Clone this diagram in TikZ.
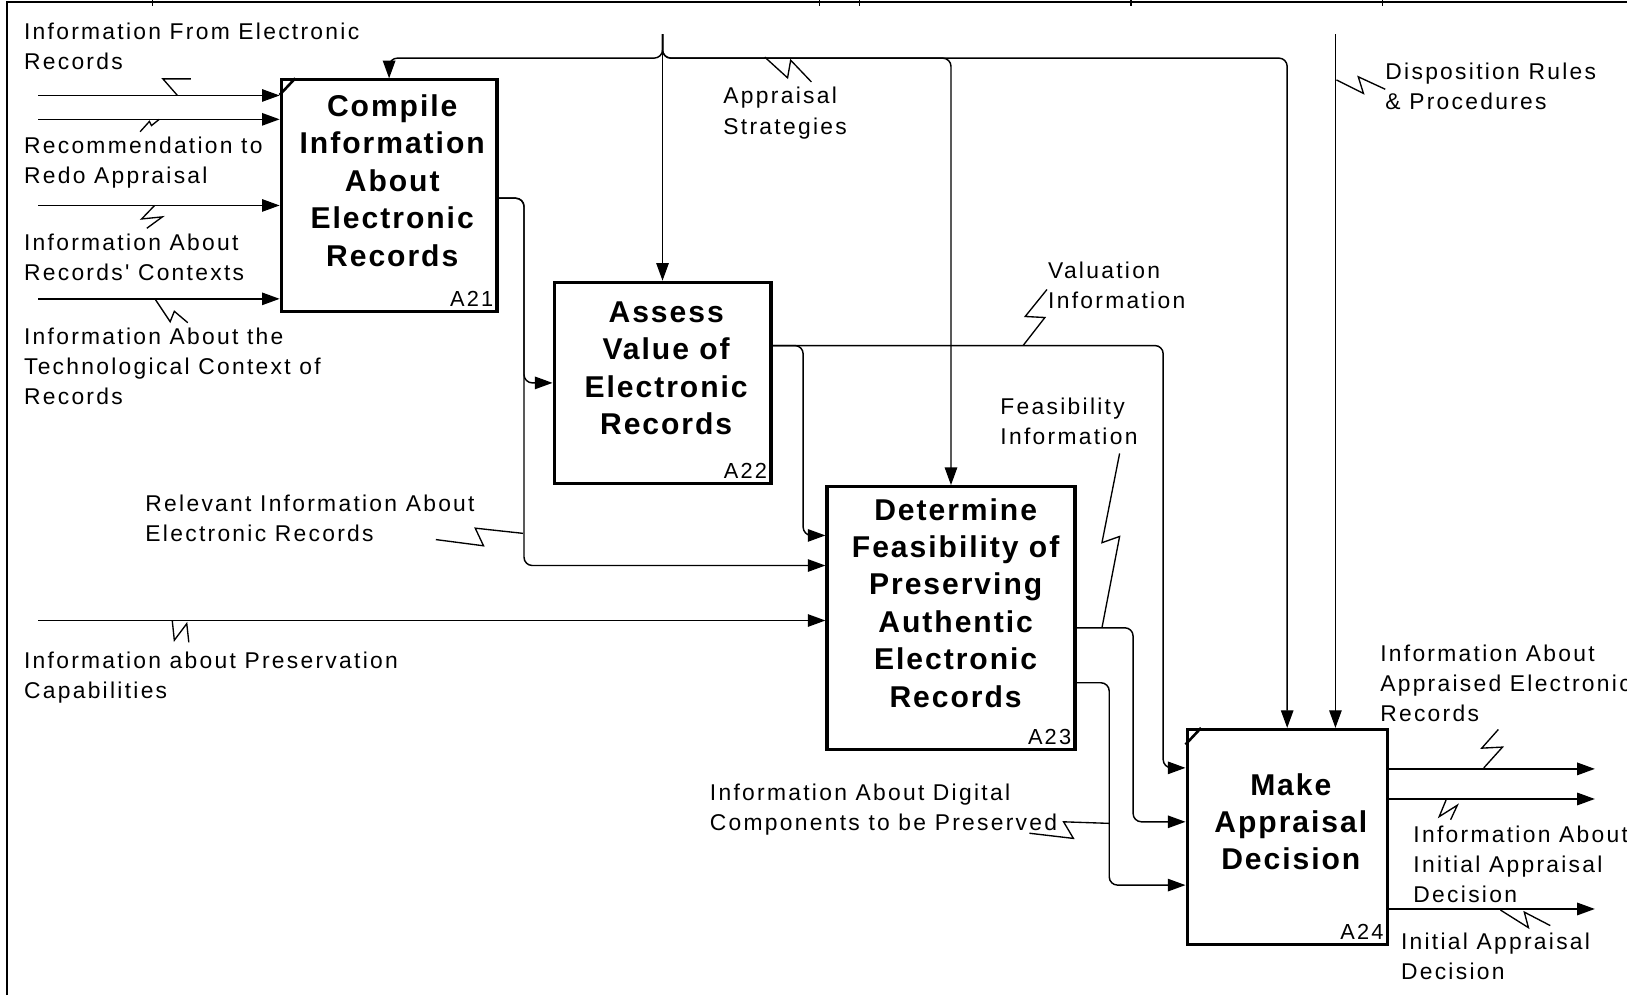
\documentclass[tikz,border=0pt]{standalone}
\usepackage{fontspec}
\setmainfont{Liberation Sans}
\newfontfamily\labfont[LetterSpace=10]{Liberation Sans}
\newfontfamily\boxfont[LetterSpace=6.5]{Liberation Sans}
\usetikzlibrary{arrows.meta,calc}
\begin{document}
\begin{tikzpicture}[x=1pt,y=-1pt,
  act/.style={draw, line width=3pt, rectangle, inner sep=0},
  boxtxt/.style={font=\boxfont\bfseries\fontsize{29}{36}\selectfont, align=center, inner sep=0},
  idtxt/.style={font=\labfont\fontsize{21}{24}\selectfont, inner sep=0, anchor=base east},
  lab/.style={font=\labfont\fontsize{22}{29}\selectfont, align=left, inner sep=0, anchor=north west},
  arr/.style={line width=1.4pt, -{Triangle[length=17pt,width=12pt]}, rounded corners=8pt},
  wire/.style={line width=1.4pt, rounded corners=8pt},
  squig/.style={line width=1.3pt},
  corner/.style={line width=2.5pt}]
\useasboundingbox (0,0) rectangle (1568,959);
% frame
\draw[line width=2pt] (7,959) -- (7,1.5) -- (1568,1.5);
\foreach \tx in {147,790,828,1090,1332} \draw[line width=1.2pt] (\tx,0) -- (\tx,6);

% activity boxes
\node[act, minimum width=208pt, minimum height=223pt] (a21) at (375,188.5) {};
\node[act, minimum width=209pt, minimum height=194pt] (a22) at (638.5,369) {};
\node[act, minimum width=239pt, minimum height=253pt] (a23) at (916.5,595.5) {};
\node[act, minimum width=193pt, minimum height=207pt] (a24) at (1240.5,806.5) {};
\draw[corner] ($(a21.north west)+(0,16)$) -- ($(a21.north west)+(15,0)$);
\draw[corner] ($(a24.north west)+(0,16)$) -- ($(a24.north west)+(15,0)$);

\node[boxtxt] (t21) at (378,174) {Compile\\Information\\About\\Electronic\\Records};
\node[boxtxt] (t22) at (642,355) {Assess\\Value of\\Electronic\\Records};
\node[boxtxt] (t23) at (921,581) {Determine\\Feasibility of\\Preserving\\Authentic\\Electronic\\Records};
\node[boxtxt] (t24) at (1244,792) {Make\\Appraisal\\Decision};

\node[idtxt] (n21) at ($(a21.south east)+(-5,-6)$) {A21};
\node[idtxt] (n22) at ($(a22.south east)+(-5,-6)$) {A22};
\node[idtxt] (n23) at ($(a23.south east)+(-5,-6)$) {A23};
\node[idtxt] (n24) at ($(a24.south east)+(-5,-6)$) {A24};

% external inputs
\coordinate (i1) at (37,92);
\coordinate (i2) at (37,115);
\coordinate (i3) at (37,198);
\coordinate (i4) at (37,288);
\coordinate (i5) at (37,598);
\draw[arr] (i1) -- (i1 -| a21.west);
\draw[arr] (i2) -- (i2 -| a21.west);
\draw[arr] (i3) -- (i3 -| a21.west);
\draw[arr] (i4) -- (i4 -| a21.west);
\draw[arr] (i5) -- (i5 -| a23.west);

% controls from top
\coordinate (cs) at (638.5,33);
\coordinate (bus) at (638.5,56);
\draw[arr] (cs) -- (a22.north);
\draw[arr] (cs) -- (bus) -| (a21.north);
\draw[arr] (cs) -- (bus) -| (a23.north);
\draw[arr] (cs) -- (bus) -| (a24.north);
\coordinate (ds) at (1287,33);
\draw[arr] (ds) -- (ds |- a24.north);

% A21 output
\coordinate (o21) at (479,191);
\coordinate (v21) at (505,191);
\coordinate (e23b) at (797,545);
\draw[arr] (o21) -- (v21) |- (a22.west);
\draw[arr] (o21) -- (v21) |- (a23.west |- e23b);

% A22 output
\coordinate (o22) at (743,333);
\coordinate (e23a) at (797,516);
\coordinate (e24a) at (1144,740);
\draw[arr] (o22) -- (774,333) |- (a23.west |- e23a);
\draw[arr] (o22) -- (1121,333) |- (a24.west |- e24a);

% A23 outputs
\coordinate (o23a) at (1036,605);
\coordinate (o23b) at (1036,658);
\coordinate (e24b) at (1144,792);
\coordinate (e24c) at (1144,853);
\draw[arr] (o23a) -- (1092,605) |- (a24.west |- e24b);
\draw[arr] (o23b) -- (1069,658) |- (a24.west |- e24c);

% A24 outputs
\coordinate (q1) at (1537,741);
\coordinate (q2) at (1537,770);
\coordinate (q3) at (1537,876);
\draw[arr] (a24.east |- q1) -- (q1);
\draw[arr] (a24.east |- q2) -- (q2);
\draw[arr] (a24.east |- q3) -- (q3);

% labels
\node[lab] (l1) at (23,22) {Information From Electronic\\Records};
\node[lab] (l2) at (23,132) {Recommendation to\\Redo Appraisal};
\node[lab] (l3) at (23,225) {Information About\\Records' Contexts};
\node[lab] (l4) at (23,316) {Information About the\\Technological Context of\\Records};
\node[lab] (l5) at (697,84) {Appraisal\\Strategies};
\node[lab] (l6) at (1335,60) {Disposition Rules\\\& Procedures};
\node[lab] (l7) at (1010,252) {Valuation\\Information};
\node[lab] (l8) at (964,383) {Feasibility\\Information};
\node[lab] (l9) at (140,477) {Relevant Information About\\Electronic Records};
\node[lab] (l10) at (23,628) {Information about Preservation\\Capabilities};
\node[lab] (l11) at (684,755) {Information About Digital\\Components to be Preserved};
\node[lab] (l12) at (1330,621) {Information About\\Appraised Electronic\\Records};
\node[lab] (l13) at (1362,796) {Information About\\Initial Appraisal\\Decision};
\node[lab] (l14) at (1350,899) {Initial Appraisal\\Decision};

% squiggles
\draw[squig] (184,76) -- (157,76) -- (171,92);
\draw[squig] (153.5,115) -- (146,121) -- (144,117) -- (135,127);
\draw[squig] (149,198) -- (136.5,211) -- (156.5,209) -- (141.5,220);
\draw[squig] (150,289) -- (164,310) -- (168,300) -- (181,311);
\draw[squig] (737,55) -- (759,75) -- (762,58) -- (782,79);
\draw[squig] (1288,77) -- (1314,90) -- (1309,74) -- (1335,86);
\draw[squig] (986,333) -- (1007,306) -- (988,305) -- (1009,279);
\draw[squig] (1079,437) -- (1062,523) -- (1079,517) -- (1062,605);
\draw[squig] (504,514) -- (458,509) -- (466,526) -- (420,520);
\draw[squig] (166,598) -- (168,617) -- (180,601) -- (182,619);
\draw[squig] (1069,793.5) -- (1025,792) -- (1034.5,808) -- (992,803);
\draw[squig] (1430,740) -- (1448,720) -- (1428,721) -- (1444,703);
\draw[squig] (1393.6,771) -- (1387,787) -- (1404.5,776) -- (1398,790);
\draw[squig] (1446,877) -- (1473,894) -- (1469,879) -- (1494,892);
\end{tikzpicture}
\end{document}
